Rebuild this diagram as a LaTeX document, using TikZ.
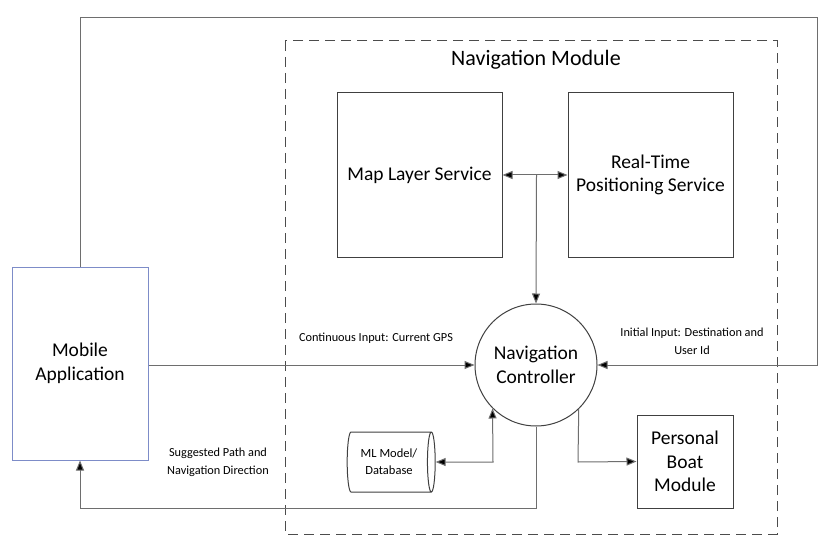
\documentclass[tikz,border=0pt]{standalone}
\usepackage{fontspec}
\setmainfont{Carlito}
\usetikzlibrary{shapes.geometric,arrows.meta}
\definecolor{linegray}{RGB}{110,110,110}
\definecolor{boxblue}{RGB}{125,140,200}
\begin{document}
\begin{tikzpicture}[x=1pt,y=-1pt,
  box/.style={draw=black!75,line width=1pt,inner sep=0pt,align=center,font=\fontsize{19.5}{23.5}\selectfont},
  conn/.style={draw=linegray,line width=1pt,-{Triangle[length=10pt,width=8pt,fill=black]}},
  conn2/.style={draw=linegray,line width=1pt,{Triangle[length=10pt,width=8pt,fill=black]}-{Triangle[length=10pt,width=8pt,fill=black]}},
  lbl/.style={font=\fontsize{12.3}{18}\selectfont,align=center,inner sep=0pt}]
\useasboundingbox (0,0) rectangle (837,548);
\fill[white] (0,0) rectangle (837,548);
% navigation module
\draw[draw=black!70,line width=1pt,dash pattern=on 10pt off 6pt] (285,41) rectangle (777,534);
\node[font=\fontsize{22}{26}\selectfont,inner sep=0pt] (title) at (536,60) {Navigation Module};
% boxes
\node[box,minimum width=165pt,minimum height=164pt] (map) at (419.5,175) {Map Layer Service};
\node[box,minimum width=165pt,minimum height=164pt] (rt) at (650.5,175) {Real-Time\\Positioning Service};
\node[box,circle,minimum size=122pt] (nc) at (536,365) {Navigation\\Controller};
\node[box,draw=boxblue,minimum width=136pt,minimum height=193pt] (mob) at (80,363.5) {Mobile\\Application};
\node[box,minimum width=96pt,minimum height=93pt] (pbm) at (685,461.5) {Personal\\Boat\\Module};
\node[box,cylinder,shape aspect=0.3,minimum width=60pt,minimum height=88pt,inner xsep=4pt,font=\fontsize{12.5}{17}\selectfont] (db) at (389,462) {ML Model/\\Database};
% connectors
\coordinate (jt) at (536.5,175);
\draw[conn2] (map.east |- jt) -- (rt.west |- jt);
\draw[conn] (jt) -- (nc.north);
\draw[conn] (mob.east |- nc) -- (nc.west);
\coordinate (tl) at (80,18);
\coordinate (tr) at (817,18);
\draw[conn] (mob.north) -- (tl) -- (tr) -- (tr |- nc) -- (nc.east);
\coordinate (ncb) at (nc.south);
\coordinate (bl) at (80,508);
\draw[conn] (ncb) -- (ncb |- bl) -- (bl) -- (mob.south);
\coordinate (dbj) at (493,462);
\draw[conn2] (db.east) -- (dbj) -- (nc.-135);
\coordinate (pbj) at (578,462);
\draw[conn] (nc.-46) -- (pbj) -- (pbm.west);
% labels
\node[lbl] (l1) at (376,338) {Continuous Input: Current GPS};
\node[lbl] (l2) at (692,341) {Initial Input: Destination and\\User Id};
\node[lbl] (l3) at (218,462) {Suggested Path and\\Navigation Direction};
\end{tikzpicture}
\end{document}
